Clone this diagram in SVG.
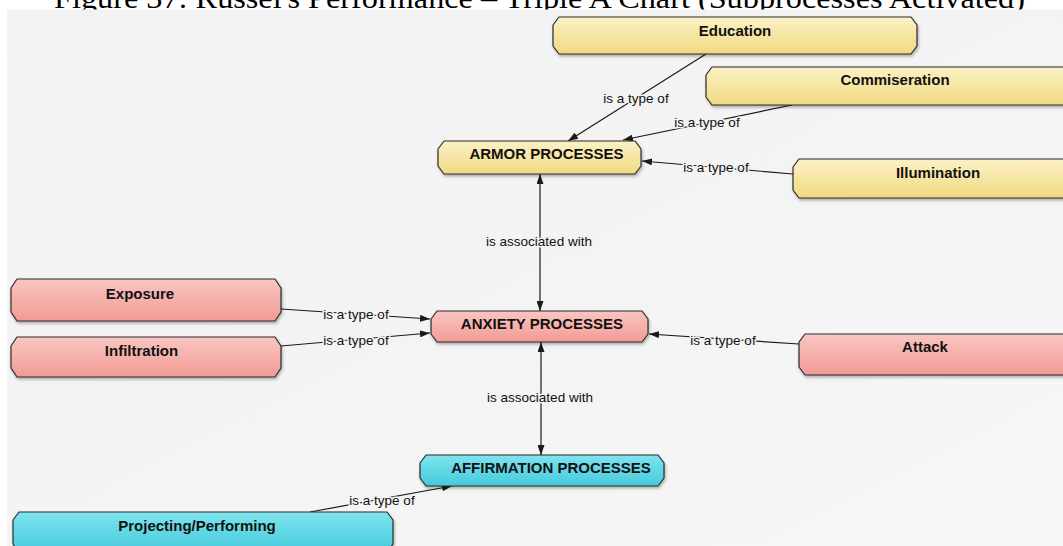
<svg xmlns="http://www.w3.org/2000/svg" width="1063" height="546" viewBox="0 0 1063 546">
  <defs>
    <linearGradient id="bg" x1="0" y1="0" x2="1" y2="1">
      <stop offset="0" stop-color="#f2f2f2"/>
      <stop offset="0.6" stop-color="#f4f4f4"/>
      <stop offset="1" stop-color="#f7f7f7"/>
    </linearGradient>
    <linearGradient id="gYellow" x1="0" y1="0" x2="0" y2="1">
      <stop offset="0" stop-color="#fbf1c6"/>
      <stop offset="1" stop-color="#f1da80"/>
    </linearGradient>
    <linearGradient id="gRed" x1="0" y1="0" x2="0" y2="1">
      <stop offset="0" stop-color="#f9c6c2"/>
      <stop offset="1" stop-color="#f29a94"/>
    </linearGradient>
    <linearGradient id="gCyan" x1="0" y1="0" x2="0" y2="1">
      <stop offset="0" stop-color="#7ee4ee"/>
      <stop offset="1" stop-color="#45cadb"/>
    </linearGradient>
    <filter id="shadow" x="-5%" y="-20%" width="110%" height="150%">
      <feDropShadow dx="1" dy="2" stdDeviation="1.5" flood-color="#000" flood-opacity="0.3"/>
    </filter>
    <marker id="arrow" viewBox="0 0 10 7" refX="10" refY="3.5" markerWidth="10" markerHeight="7" markerUnits="userSpaceOnUse" orient="auto-start-reverse">
      <path d="M0,0 L10,3.5 L0,7 z" fill="#1a1a1a"/>
    </marker>
    <style>
      .node { stroke: #2b2b2b; stroke-width: 1.2; stroke-linejoin: round; filter: url(#shadow); }
      .yellow { fill: url(#gYellow); }
      .red { fill: url(#gRed); }
      .cyan { fill: url(#gCyan); }
      .ntext { font-family: "Liberation Sans", Arial, sans-serif; font-weight: bold; font-size: 15px; fill: #111; text-anchor: middle; }
      .link { stroke: #1a1a1a; stroke-width: 1.2; fill: none; }
      .label { font-family: "Liberation Sans", Arial, sans-serif; font-size: 13.5px; fill: #111; text-anchor: middle; stroke: #f3f3f3; stroke-width: 3; paint-order: stroke; }
      .title { font-family: "Liberation Serif", "Times New Roman", serif; font-size: 30px; fill: #000; }
    </style>
  </defs>

  <!-- page and caption -->
  <rect x="0" y="0" width="1063" height="546" fill="#ffffff"/>
  <text class="title" x="54" y="7.5" textLength="971" lengthAdjust="spacingAndGlyphs">Figure 37: Russel's Performance – Triple A Chart (Subprocesses Activated)</text>
  <rect x="7" y="9.5" width="1056" height="537" fill="url(#bg)"/>

  <!-- connectors -->
  <g id="connectors">
    <path class="link" d="M706,54 L568,141" marker-end="url(#arrow)"/>
    <path class="link" d="M792,105 L623,140" marker-end="url(#arrow)"/>
    <path class="link" d="M793,174 L642,161" marker-end="url(#arrow)"/>
    <path class="link" d="M540,174 L540,311" marker-start="url(#arrow)" marker-end="url(#arrow)"/>
    <path class="link" d="M281,309 L430,319" marker-end="url(#arrow)"/>
    <path class="link" d="M281,346 L430,333" marker-end="url(#arrow)"/>
    <path class="link" d="M799,344 L649,334" marker-end="url(#arrow)"/>
    <path class="link" d="M541,342 L541,455" marker-start="url(#arrow)" marker-end="url(#arrow)"/>
    <path class="link" d="M310,512 L452,486" marker-end="url(#arrow)"/>

    <text class="label" x="636" y="103">is a type of</text>
    <text class="label" x="707" y="127">is a type of</text>
    <text class="label" x="716" y="172">is a type of</text>
    <text class="label" x="539" y="246">is associated with</text>
    <text class="label" x="356" y="319">is a type of</text>
    <text class="label" x="356" y="345">is a type of</text>
    <text class="label" x="723" y="345">is a type of</text>
    <text class="label" x="540" y="402">is associated with</text>
    <text class="label" x="382" y="505">is a type of</text>
  </g>

  <!-- armor branch -->
  <g id="education">
    <polygon class="node yellow" points="559,17 911,17 917,25 917,46 911,54 559,54 553,46 553,25"/>
    <text class="ntext" x="735" y="35.5">Education</text>
  </g>
  <g id="commiseration">
    <polygon class="node yellow" points="712,67 1078,67 1084,75 1084,97 1078,105 712,105 706,97 706,75"/>
    <text class="ntext" x="895" y="84.5">Commiseration</text>
  </g>
  <g id="armor-processes">
    <polygon class="node yellow" points="444,141 635,141 641,149 641,166 635,174 444,174 438,166 438,149"/>
    <text class="ntext" x="546.5" y="158.5">ARMOR PROCESSES</text>
  </g>
  <g id="illumination">
    <polygon class="node yellow" points="799,159 1077,159 1083,167 1083,190 1077,198 799,198 793,190 793,167"/>
    <text class="ntext" x="938" y="177.5">Illumination</text>
  </g>

  <!-- anxiety branch -->
  <g id="exposure">
    <polygon class="node red" points="17,279 275,279 281,288 281,312 275,321 17,321 11,312 11,288"/>
    <text class="ntext" x="140" y="298.5">Exposure</text>
  </g>
  <g id="infiltration">
    <polygon class="node red" points="17,337 275,337 281,346 281,368 275,377 17,377 11,368 11,346"/>
    <text class="ntext" x="141.5" y="355.5">Infiltration</text>
  </g>
  <g id="anxiety-processes">
    <polygon class="node red" points="437,311 642,311 648,319 648,334 642,342 437,342 431,334 431,319"/>
    <text class="ntext" x="542" y="328.5">ANXIETY PROCESSES</text>
  </g>
  <g id="attack">
    <polygon class="node red" points="805,334 1064,334 1070,342 1070,367 1064,375 805,375 799,367 799,342"/>
    <text class="ntext" x="925" y="351.5">Attack</text>
  </g>

  <!-- affirmation branch -->
  <g id="affirmation-processes">
    <polygon class="node cyan" points="426,455 658,455 664,463 664,478 658,486 426,486 420,478 420,463"/>
    <text class="ntext" x="551" y="472.5">AFFIRMATION PROCESSES</text>
  </g>
  <g id="projecting-performing">
    <polygon class="node cyan" points="19,512 387,512 393,520 393,544 387,552 19,552 13,544 13,520"/>
    <text class="ntext" x="197" y="530.5">Projecting/Performing</text>
  </g>
</svg>
